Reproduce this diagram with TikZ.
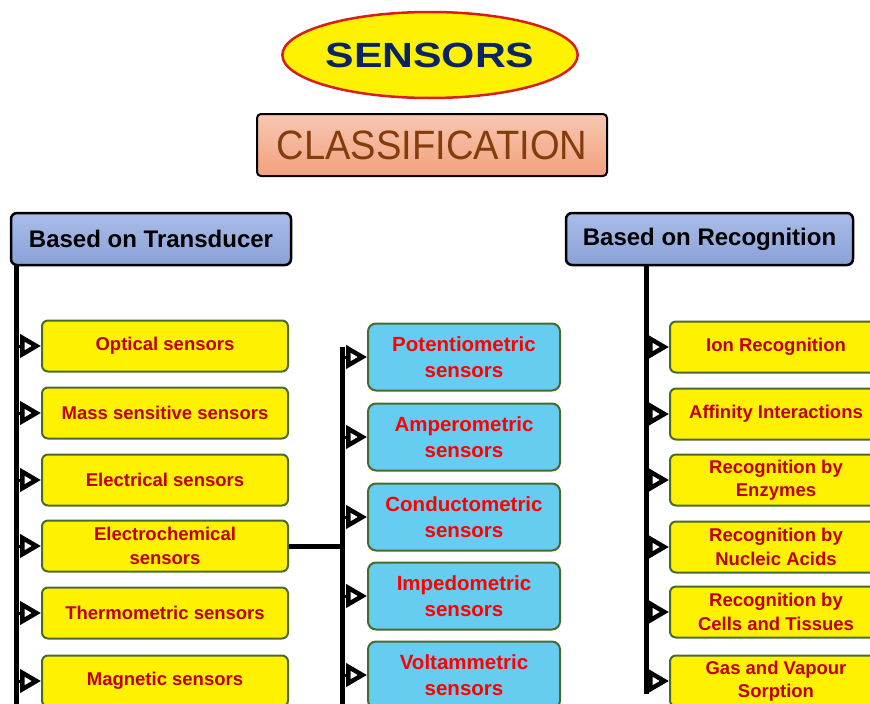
\documentclass[tikz,border=0pt]{standalone}
\usepackage{fontspec}
\setmainfont{Liberation Sans}
\usetikzlibrary{arrows.meta,shapes.geometric}

\definecolor{navytxt}{HTML}{0A2463}
\definecolor{ringred}{HTML}{D81E1A}
\definecolor{browntxt}{HTML}{843C0C}
\definecolor{itemred}{HTML}{C00000}
\definecolor{brightred}{HTML}{FF0000}
\definecolor{edgegreen}{HTML}{4A6A2C}
\definecolor{skyfill}{HTML}{66CCF0}
\definecolor{hdrtop}{HTML}{AABDE9}
\definecolor{hdrbot}{HTML}{8AA1D7}
\definecolor{clstop}{HTML}{F8C8B2}
\definecolor{clsbot}{HTML}{F2A07E}

\tikzset{
  header/.style={draw=black, line width=2.5pt, rounded corners=6pt,
    top color=hdrtop, bottom color=hdrbot, minimum height=52pt, inner sep=0pt,
    font=\fontsize{24}{28}\selectfont\bfseries, text=black},
  ybox/.style={draw=edgegreen, line width=2pt, rounded corners=6pt, fill=yellow,
    minimum width=246pt, minimum height=51pt, inner sep=0pt, align=center,
    font=\fontsize{18.5}{23.5}\selectfont\bfseries, text=itemred},
  rbox/.style={ybox, minimum width=212pt},
  bbox/.style={draw=edgegreen, line width=2pt, rounded corners=8pt, fill=skyfill,
    minimum width=192pt, minimum height=67pt, inner sep=0pt, align=center,
    font=\fontsize{20.5}{26}\selectfont\bfseries, text=brightred},
  spine/.style={line width=5pt, line cap=butt},
  arr/.style={line width=3pt,
    -{Triangle[length=21pt,width=23pt,fill=white,line width=4.5pt]}},
}

\begin{document}
\begin{tikzpicture}[x=1pt,y=-1pt]
\useasboundingbox (0,0) rectangle (870,704);

% title and classification banner
\node[ellipse, draw=ringred, line width=2.5pt, fill=yellow,
      minimum width=275pt, minimum height=86pt, inner sep=0pt,
      font=\fontsize{35}{40}\selectfont\bfseries, text=navytxt]
  (title) at (430,55) {\scalebox{1.22}[1]{SENSORS}};
\node[draw=black, line width=2pt, rounded corners=4pt,
      top color=clstop, bottom color=clsbot,
      minimum width=350pt, minimum height=62pt, inner sep=0pt,
      font=\fontsize{41}{44}\selectfont, text=browntxt]
  (cls) at (432,145) {\scalebox{0.93}[1]{CLASSIFICATION}};

% category headers
\node[header, minimum width=280pt] (hT) at (151,239) {Based on Transducer};
\node[header, minimum width=287pt] (hR) at (709.5,239) {Based on Recognition};

% transducer branch
\node[ybox] (opt)  at (165,346) {Optical sensors};
\node[ybox] (mass) at (165,413) {Mass sensitive sensors};
\node[ybox] (elec) at (165,480) {Electrical sensors};
\node[ybox] (echem) at (165,546) {Electrochemical\\sensors};
\node[ybox] (therm) at (165,613) {Thermometric sensors};
\node[ybox] (magn) at (165,681) {Magnetic sensors};

% electrochemical sub-types
\node[bbox] (pot)  at (464,357) {Potentiometric\\sensors};
\node[bbox] (amp)  at (464,437) {Amperometric\\sensors};
\node[bbox] (cond) at (464,517) {Conductometric\\sensors};
\node[bbox] (imp)  at (464,596) {Impedometric\\sensors};
\node[bbox] (volt) at (464,675) {Voltammetric\\sensors};

% recognition branch
\node[rbox] (ion)  at (776,347) {Ion Recognition};
\node[rbox] (aff)  at (776,414) {Affinity Interactions};
\node[rbox] (enz)  at (776,480) {Recognition by\\Enzymes};
\node[rbox] (nuc)  at (776,547) {Recognition by\\Nucleic Acids};
\node[rbox] (cell) at (776,612) {Recognition by\\Cells and Tissues};
\node[rbox] (gas)  at (776,681) {Gas and Vapour\\Sorption};

% spine end points
\coordinate (lx) at (16,0);
\coordinate (lend) at (16,704);
\coordinate (mx) at (342,0);
\coordinate (mtop) at (342,347);
\coordinate (mend) at (342,704);
\coordinate (rx) at (646,0);
\coordinate (rend) at (646,694);

% spines
\draw[spine] (hT.south -| lx) -- (lend);
\draw[spine] (mtop) -- (mend);
\draw[spine] (hR.south -| rx) -- (rend);
\draw[spine] (echem.east) -- (echem.east -| mx);

% branch arrows
\foreach \n in {opt,mass,elec,echem,therm,magn}
  \draw[arr] (\n.west -| lx) -- (\n.west);
\foreach \n in {pot,amp,cond,imp,volt}
  \draw[arr] (\n.west -| mx) -- (\n.west);
\foreach \n in {ion,aff,enz,nuc,cell,gas}
  \draw[arr] (\n.west -| rx) -- (\n.west);
\end{tikzpicture}
\end{document}
